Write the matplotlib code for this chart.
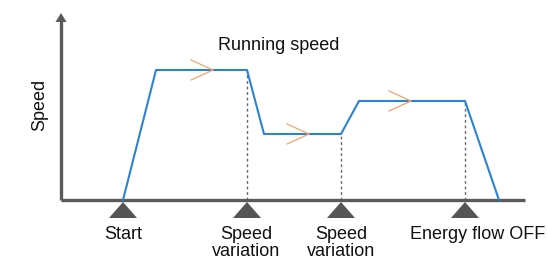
import matplotlib
matplotlib.use("Agg")
import matplotlib.pyplot as plt
from matplotlib.patches import Polygon

plt.rcParams['font.family'] = ['Liberation Sans', 'DejaVu Sans']

# Data (time units, speed units)
times = [62, 95, 186, 203, 280, 298, 404, 438]
speeds = [0, 130, 130, 66, 66, 99, 99, 0]
event_times = [62, 186, 280, 404]
event_labels = ["Start", "Speed\nvariation", "Speed\nvariation", "Energy flow OFF"]
event_speeds = [0, 130, 66, 99]
chevron_times = [152, 248, 350]
chevron_speeds = [130, 66, 99]
title = "Running speed"
ylabel = "Speed"

# layout: horizontal label nudges
label_dx = [0, -1, 0, 13]

W, H = 548, 265
fig = plt.figure(figsize=(W / 100, H / 100), dpi=100)
ax = fig.add_axes([0, 0, 1, 1])
ax.set_xlim(-61, W - 61)
ax.set_ylim(-65, 200)
ax.axis('off')

gray = '#5a5a5a'
blue = '#2a84d2'
orange = '#f4a46a'

# axes lines
ax.plot([0, 464], [0, 0], color=gray, lw=2.4, solid_capstyle='butt', zorder=2)
ax.plot([0, 0], [0, 179], color=gray, lw=2.4, solid_capstyle='butt', zorder=2)
ax.add_patch(Polygon([[-5.5, 178], [5.5, 178], [0, 187]], closed=True,
                     color=gray, lw=0, zorder=2))

# dashed verticals
for t, s in zip(event_times[1:], event_speeds[1:]):
    ax.plot([t, t], [0, s], color='#666666', lw=1.0, ls=(0, (2, 2)), zorder=1)

# speed profile
ax.plot(times, speeds, color=blue, lw=1.5, zorder=3)

# chevrons
for t, s in zip(chevron_times, chevron_speeds):
    ax.plot([t - 22, t, t - 22], [s + 10, s, s - 10], color=orange, lw=0.9, zorder=4)

# event triangles and labels
for t, lab, dx in zip(event_times, event_labels, label_dx):
    ax.add_patch(Polygon([[t - 14, -18], [t + 14, -18], [t, -2]], closed=True,
                         color='#555555', lw=0, zorder=2))
    ax.text(t + dx, -26, lab, ha='center', va='top', fontsize=13,
            linespacing=1.02, color='#111111')

ax.text(218, 155, title, ha='center', va='center', fontsize=13, color='#111111')
ax.text(-21, 95, ylabel, ha='center', va='center', rotation=90, fontsize=13,
        color='#111111')

fig.savefig('out.png', dpi=100)
